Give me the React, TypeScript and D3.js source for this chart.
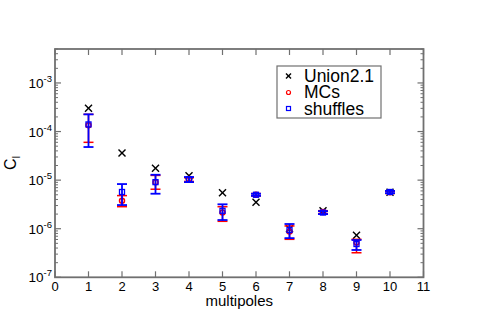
import React from "react";
import * as d3 from "d3";

const multipoles = [1, 2, 3, 4, 5, 6, 7, 8, 9, 10];
const union21 = [3.0e-4, 3.6e-5, 1.75e-5, 1.23e-5, 5.5e-6, 3.5e-6, 1.0e-6, 2.35e-6, 7.3e-7, 5.6e-6];
const mcs = [1.35e-4, 3.77e-6, 9.0e-6, 1.05e-5, 2.15e-6, 5.0e-6, 8.8e-7, 2.2e-6, 5.2e-7, 5.6e-6];
const mcsLow = [6.0e-5, 2.84e-6, 6.5e-6, 9.4e-6, 1.42e-6, 4.7e-6, 6.05e-7, 2.05e-6, 3.2e-7, 5.3e-6];
const mcsHigh = [2.26e-4, 4.8e-6, 1.25e-5, 1.12e-5, 2.84e-6, 5.3e-6, 1.14e-6, 2.35e-6, 6.05e-7, 5.9e-6];
const shuffles = [1.4e-4, 5.7e-6, 9.1e-6, 1.04e-5, 2.34e-6, 5.0e-6, 9.4e-7, 2.15e-6, 4.84e-7, 5.7e-6];
const shufLow = [4.8e-5, 3.07e-6, 5.25e-6, 9.1e-6, 1.51e-6, 4.75e-6, 6.4e-7, 2.0e-6, 3.65e-7, 5.4e-6];
const shufHigh = [2.26e-4, 8.3e-6, 1.29e-5, 1.16e-5, 3.18e-6, 5.25e-6, 1.25e-6, 2.3e-6, 5.85e-7, 6.0e-6];
const xTicks = [0, 1, 2, 3, 4, 5, 6, 7, 8, 9, 10, 11];
const yExponents = [-7, -6, -5, -4, -3];
const legendLabels = ["Union2.1", "MCs", "shuffles"];

const L = 55, R = 423.5, T = 49, B = 277.3;
const font = "Liberation Sans, Arial, Helvetica, sans-serif";
const axisColor = "#707070";

export default function App() {
  const x = d3.scaleLinear().domain([0, 11]).range([L, R]);
  const y = d3.scaleLog().domain([1e-7, 5e-3]).range([B, T]);

  const minorTicks: number[] = [];
  for (let e = -7; e <= -3; e++) {
    for (let m = 2; m <= 9; m++) {
      const v = m * Math.pow(10, e);
      if (v <= 5e-3) minorTicks.push(v);
    }
  }

  const cap = 5;
  const xs = (cx: number, cy: number, s: number, color: string, key: string) => (
    <g key={key} stroke={color} strokeWidth={1.4}>
      <line x1={cx - s} y1={cy - s} x2={cx + s} y2={cy + s} />
      <line x1={cx - s} y1={cy + s} x2={cx + s} y2={cy - s} />
    </g>
  );

  return (
    <svg width={477} height={327} style={{ position: "absolute", left: 0, top: 0 }} fontFamily={font}>
      <rect x={0} y={0} width={477} height={327} fill="#fff" />
      {/* frame */}
      <rect x={L} y={T} width={R - L} height={B - T} fill="none" stroke={axisColor} strokeWidth={1.8} />
      {/* x ticks */}
      {xTicks.map((t) => (
        <g key={"xt" + t} stroke={axisColor} strokeWidth={1.2}>
          <line x1={x(t)} x2={x(t)} y1={B} y2={B - 6} />
          <line x1={x(t)} x2={x(t)} y1={T} y2={T + 6} />
        </g>
      ))}
      {xTicks.map((t) => (
        <text key={"xl" + t} x={x(t)} y={290.5} fontSize={13} textAnchor="middle" fill="#000">
          {t}
        </text>
      ))}
      {/* y ticks */}
      {yExponents.map((e) => (
        <g key={"yt" + e} stroke={axisColor} strokeWidth={1.2}>
          <line x1={L} x2={L + 6} y1={y(Math.pow(10, e))} y2={y(Math.pow(10, e))} />
          <line x1={R} x2={R - 6} y1={y(Math.pow(10, e))} y2={y(Math.pow(10, e))} />
        </g>
      ))}
      {minorTicks.map((v, i) => (
        <g key={"ym" + i} stroke={axisColor} strokeWidth={1}>
          <line x1={L} x2={L + 3} y1={y(v)} y2={y(v)} />
          <line x1={R} x2={R - 3} y1={y(v)} y2={y(v)} />
        </g>
      ))}
      {yExponents.map((e) => (
        <text key={"yl" + e} x={52} y={y(Math.pow(10, e)) + 5} fontSize={13.5} textAnchor="end" fill="#000">
          10<tspan fontSize={9.5} dy={-6}>{e}</tspan>
        </text>
      ))}
      {/* axis labels */}
      <text x={(L + R) / 2} y={306} fontSize={15} textAnchor="middle" fill="#000">multipoles</text>
      <text transform="translate(16,163) rotate(-90)" fontSize={16} textAnchor="middle" fill="#000">
        C<tspan fontSize={10} dy={4}>l</tspan>
      </text>

      {/* Union2.1 */}
      {multipoles.map((m, i) => xs(x(m), y(union21[i]), 3.5, "#000", "u" + i))}

      {/* MCs */}
      {multipoles.map((m, i) => (
        <g key={"mc" + i} stroke="#ff0000" strokeWidth={1.5} fill="none">
          <line x1={x(m)} x2={x(m)} y1={y(mcsLow[i])} y2={y(mcsHigh[i])} />
          <line x1={x(m) - cap} x2={x(m) + cap} y1={y(mcsLow[i])} y2={y(mcsLow[i])} />
          <line x1={x(m) - cap} x2={x(m) + cap} y1={y(mcsHigh[i])} y2={y(mcsHigh[i])} />
          <circle cx={x(m)} cy={y(mcs[i])} r={2.5} />
        </g>
      ))}

      {/* shuffles */}
      {multipoles.map((m, i) => (
        <g key={"sh" + i} stroke="#0000ff" strokeWidth={1.8} fill="none">
          <line x1={x(m)} x2={x(m)} y1={y(shufLow[i])} y2={y(shufHigh[i])} />
          <line x1={x(m) - cap} x2={x(m) + cap} y1={y(shufLow[i])} y2={y(shufLow[i])} />
          <line x1={x(m) - cap} x2={x(m) + cap} y1={y(shufHigh[i])} y2={y(shufHigh[i])} />
          <rect x={x(m) - 2.5} y={y(shuffles[i]) - 2.5} width={5} height={5} strokeWidth={1.3} />
        </g>
      ))}

      {/* legend */}
      <rect x={277} y={66} width={104} height={52} fill="#fff" stroke={axisColor} strokeWidth={1.2} />
      {xs(288.5, 76, 2.5, "#000", "lu")}
      <circle cx={288.5} cy={92.5} r={2} fill="none" stroke="#ff0000" strokeWidth={1.2} />
      <rect x={286.5} y={106.5} width={4} height={4} fill="none" stroke="#0000ff" strokeWidth={1.2} />
      {legendLabels.map((l, i) => (
        <text key={"lg" + i} x={304} y={82 + i * 16.3} fontSize={17.5} fill="#000">{l}</text>
      ))}
    </svg>
  );
}
